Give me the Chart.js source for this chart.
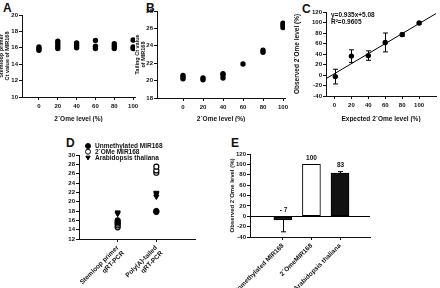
<!DOCTYPE html>
<html><head><meta charset="utf-8">
<script src="https://cdn.jsdelivr.net/npm/chart.js@4/dist/chart.umd.min.js"></script>
<style>
html,body{margin:0;padding:0;background:#fff}
body{width:440px;height:288px;position:relative;overflow:hidden}
canvas{position:absolute}
.lbl{position:absolute;font:bold 12px 'Liberation Sans',Arial,sans-serif;color:#111;line-height:12px}
</style></head><body>
<div class="lbl" style="left:3px;top:2px">A</div>
<div class="lbl" style="left:146px;top:2px">B</div>
<div class="lbl" style="left:302px;top:3px">C</div>
<div class="lbl" style="left:66px;top:137px">D</div>
<div class="lbl" style="left:231px;top:137px">E</div>
<canvas id="cA" width="140" height="122" style="left:0;top:0"></canvas>
<canvas id="cB" width="155" height="122" style="left:135px;top:0"></canvas>
<canvas id="cC" width="150" height="122" style="left:290px;top:0"></canvas>
<canvas id="cD" width="150" height="153" style="left:60px;top:135px"></canvas>
<canvas id="cE" width="160" height="158" style="left:220px;top:130px"></canvas>
<script>
// ---------- data ----------
// Panel A: stem-loop primer Ct values vs 2'Ome level
const aX = [0,0,0, 20,20,20,20, 40,40,40, 60,60,60, 80,80,80, 100,100,100];
const aY = [15.7,15.9,16.1, 15.9,16.2,16.5,16.8, 16.0,16.3,16.6, 15.9,16.2,16.9, 15.9,16.2,16.5, 15.9,16.1,16.95];
const aTicksX = [0,20,40,60,80,100];
const aTicksY = [10,12,14,16,18,20];
// Panel B: tailing Ct values vs 2'Ome level
const bX = [0,0,0, 20,20, 40,40,40, 60, 80,80, 100,100,100];
const bY = [20.2,20.4,20.6, 20.1,20.3, 20.3,20.65,20.8, 21.9, 23.25,23.5, 26.1,26.35,26.6];
const bTicksX = [0,20,40,60,80,100];
const bTicksY = [18,20,22,24,26,28];
// Panel C: observed vs expected
const cX = [1,20,40,60,80,100];
const cY = [-3,36,37,62,77,99];
const cErr = [14,12,9,18,3,2];
const cFitX = [-10,120];
const cFitY = [-7,117];
const cTicksX = [0,20,40,60,80,100];
const cTicksY = [-40,-20,0,20,40,60,80,100,120];
const cEquation = ['y=0.935x+5.08','R\u00B2=0.9605'];
// Panel D: Ct by method
const dMethods = [['Stemloop primer','qRT-PCR'],['Poly(A)-tailed','qRT-PCR']];
const dSeries = ['Unmethylated MIR168','2\u00B4OMe MIR168','Arabidopsis thaliana'];
const dUnmethX = [1,1,2,2];
const dUnmethY = [15.6,16.0,17.8,18.0];
const dOmeX = [1,1,1,2,2,2];
const dOmeY = [14.5,14.9,15.3,26.2,26.7,27.5];
const dAthX = [1,1,2,2,2];
const dAthY = [17.4,17.7,21.1,21.6,21.9];
const dTicksY = [12,14,16,18,20,22,24,26,28,30];
// Panel E: observed 2'Ome level
const eCats = ['Unmethylated MIR168','2\u00B4OmeMIR168','Arabidopsis thaliana'];
const eVals = [-7,100,83];
const eErrLow = [23,0,0];
const eErrHigh = [0,0,3];
const eLabels = ['- 7','100','83'];
const eTicksY = [-40,-20,0,20,40,60,80,100,120];

// ---------- helpers ----------
const F = "'Liberation Sans', Arial, sans-serif";
const INK = '#111';
function axis(o){
  const a = {
    type:'linear', min:o.min, max:o.max, offset:false,
    afterBuildTicks: s => { s.ticks = o.ticks.map(v => ({value:v})); },
    afterFit: s => {
      if(o.w!=null) s.width=o.w;
      if(o.h!=null){ s.height=o.h; s.paddingLeft=0; s.paddingRight=0; }
    },
    grid:{display:true, offset:false, drawOnChartArea:false, drawTicks:true, tickLength:3, color:INK, lineWidth:1},
    border:{display:true, color:INK, width:1},
    ticks:{color:INK, font:{family:F,size:o.fs||6,weight:'bold'}, padding:o.tp!=null?o.tp:1, autoSkip:false,
           maxRotation:o.rot||0, minRotation:o.rot||0},
    title: o.title ? {display:true, text:o.title, color:INK, font:{family:F,size:o.tfs||6,weight:'bold',lineHeight:1.0}, padding:o.tpad||0} : {display:false}
  };
  if (o.cb) a.ticks.callback = o.cb;
  return a;
}
function base(pad, scales){
  return {responsive:false, animation:false, devicePixelRatio:1,
    layout:{padding:pad},
    plugins:{legend:{display:false}, tooltip:{enabled:false}},
    scales:scales};
}
function pts(xs, ys){ return xs.map((x,i)=>({x:x, y:ys[i]})); }

// ---------- A ----------
new Chart(document.getElementById('cA'), {
  type:'scatter',
  data:{datasets:[{data:pts(aX,aY), pointRadius:2.7, backgroundColor:'#000', borderColor:'#000', borderWidth:0}]},
  options: base({top:15,right:5,left:0,bottom:0}, {
    x: axis({min:-18,max:102,ticks:aTicksX,h:25,title:'2\u00B4Ome level (%)',tp:3,tfs:6.5}),
    y: axis({min:10,max:20,ticks:aTicksY,w:22,title:['Stemloop primer','Ct value of MIR168'],tfs:5.5,tpad:{top:-1,bottom:0}})
  })
});

// ---------- B ----------
new Chart(document.getElementById('cB'), {
  type:'scatter',
  data:{datasets:[{data:pts(bX,bY), pointRadius:2.7, backgroundColor:'#000', borderColor:'#000', borderWidth:0}]},
  options: base({top:11,right:5,left:0,bottom:0}, {
    x: axis({min:-26,max:102,ticks:bTicksX,h:24,title:'2\u00B4Ome level (%)',tp:3,tfs:6.5}),
    y: axis({min:18,max:28,ticks:bTicksY,w:22,title:['Tailing Ct value','of MIR168'],tfs:5.5,tpad:{top:0,bottom:0}})
  })
});

// ---------- C ----------
const cPlugin = {id:'cExtra', afterDatasetsDraw(chart){
  const ctx = chart.ctx, xs = chart.scales.x, ys = chart.scales.y;
  ctx.save(); ctx.strokeStyle='#000'; ctx.lineWidth=1;
  cX.forEach((x,i)=>{
    const px = Math.round(xs.getPixelForValue(x))+0.5;
    const t = ys.getPixelForValue(cY[i]+cErr[i]), b = ys.getPixelForValue(cY[i]-cErr[i]);
    ctx.beginPath(); ctx.moveTo(px,t); ctx.lineTo(px,b);
    ctx.moveTo(px-2.5,t); ctx.lineTo(px+2.5,t);
    ctx.moveTo(px-2.5,b); ctx.lineTo(px+2.5,b); ctx.stroke();
  });
  ctx.fillStyle=INK; ctx.font='bold 6.5px '+F; ctx.textBaseline='top'; ctx.textAlign='left';
  const ca = chart.chartArea;
  ctx.fillText(cEquation[0], ca.left+5, ca.top+0);
  ctx.fillText(cEquation[1], ca.left+5, ca.top+6.5);
  ctx.restore();
}};
new Chart(document.getElementById('cC'), {
  type:'scatter',
  data:{datasets:[
    {data:pts(cX,cY), pointRadius:2.7, backgroundColor:'#000', borderColor:'#000', borderWidth:0},
    {type:'line', data:pts(cFitX,cFitY), borderColor:'#000', borderWidth:1, pointRadius:0, fill:false}
  ]},
  options: base({top:12,right:0,left:0,bottom:0}, {
    x: axis({min:-10,max:120,ticks:cTicksX,h:26,title:'Expected 2\u00B4Ome level (%)',tp:3,tfs:6.5}),
    y: axis({min:-40,max:120,ticks:cTicksY,w:36,title:'Observed 2\u00B4Ome level (%)',tfs:6.5,tpad:{top:4,bottom:0}})
  }),
  plugins:[cPlugin]
});

// ---------- D ----------
const dStyles = [
  {pointStyle:'circle', backgroundColor:'#000', borderColor:'#000', rotation:0},
  {pointStyle:'circle', backgroundColor:'#fff', borderColor:'#000', rotation:0},
  {pointStyle:'triangle', backgroundColor:'#000', borderColor:'#000', rotation:180}
];
const dLegend = {id:'dLegend', afterDraw(chart){
  const ctx = chart.ctx; ctx.save();
  ctx.font='bold 6.5px '+F; ctx.textBaseline='middle'; ctx.textAlign='left'; ctx.fillStyle=INK;
  dSeries.forEach((s,i)=>{
    const y = 11 + i*5.7;
    const st = dStyles[i];
    ctx.fillStyle = st.backgroundColor; ctx.strokeStyle = st.borderColor; ctx.lineWidth=1;
    Chart.helpers.drawPoint(ctx, {pointStyle:st.pointStyle, rotation:st.rotation, radius:2.5, borderWidth:1}, 28, y);
    ctx.fillStyle=INK;
    ctx.fillText(s, 35, y+0.5);
  });
  ctx.restore();
}};
new Chart(document.getElementById('cD'), {
  type:'scatter',
  data:{datasets:[
    Object.assign({data:pts(dUnmethX,dUnmethY), pointRadius:2.7, borderWidth:1}, dStyles[0]),
    Object.assign({data:pts(dOmeX,dOmeY), pointRadius:2.5, borderWidth:1.2}, dStyles[1]),
    Object.assign({data:pts(dAthX,dAthY), pointRadius:3, borderWidth:1}, dStyles[2])
  ]},
  options: base({top:20,right:15,left:0,bottom:0}, {
    x: axis({min:0,max:3,ticks:[1,2],h:49,rot:45,tp:2,fs:6.5,cb:(v)=>dMethods[v-1]||''}),
    y: axis({min:12,max:30,ticks:dTicksY,w:19})
  }),
  plugins:[dLegend]
});

// ---------- E ----------
const ePlugin = {id:'eExtra', afterDatasetsDraw(chart){
  const ctx = chart.ctx, xs = chart.scales.x, ys = chart.scales.y, ca = chart.chartArea;
  ctx.save(); ctx.strokeStyle='#000'; ctx.lineWidth=1;
  const z = Math.round(ys.getPixelForValue(0))+0.5;
  ctx.beginPath(); ctx.moveTo(ca.left,z); ctx.lineTo(ca.right,z); ctx.stroke();
  eVals.forEach((v,i)=>{
    const px = Math.round(xs.getPixelForValue(i+1))+0.5;
    if (eErrLow[i]>0){
      const b = ys.getPixelForValue(v-eErrLow[i]), s = ys.getPixelForValue(v);
      ctx.beginPath(); ctx.moveTo(px,s); ctx.lineTo(px,b); ctx.moveTo(px-2.5,b); ctx.lineTo(px+2.5,b); ctx.stroke();
    }
    if (eErrHigh[i]>0){
      const t = ys.getPixelForValue(v+eErrHigh[i]), s = ys.getPixelForValue(v);
      ctx.beginPath(); ctx.moveTo(px,s); ctx.lineTo(px,t); ctx.moveTo(px-2.5,t); ctx.lineTo(px+2.5,t); ctx.stroke();
    }
    ctx.fillStyle=INK; ctx.font='bold 6.5px '+F; ctx.textAlign='center'; ctx.textBaseline='bottom';
    const top = ys.getPixelForValue(Math.max(v,0)+eErrHigh[i]);
    ctx.fillText(eLabels[i], px, top-3);
  });
  ctx.restore();
}};
new Chart(document.getElementById('cE'), {
  type:'bar',
  data:{datasets:[{
    data: eVals.map((v,i)=>({x:i+1, y:v})),
    backgroundColor:['#1a1a1a','#ffffff','#111111'],
    borderColor:'#000', borderWidth:1, barThickness:18, borderSkipped:false
  }]},
  options: base({top:24,right:10,left:0,bottom:0}, {
    x: axis({min:-0.15,max:4.05,ticks:[1,2,3],h:51,rot:45,tp:2,fs:6.5,cb:(v)=>eCats[v-1]||''}),
    y: axis({min:-40,max:120,ticks:eTicksY,w:30,title:'Observed 2\u00B4Ome level (%)',tfs:6,tpad:{top:9,bottom:0}})
  }),
  plugins:[ePlugin]
});
</script>
</body></html>
